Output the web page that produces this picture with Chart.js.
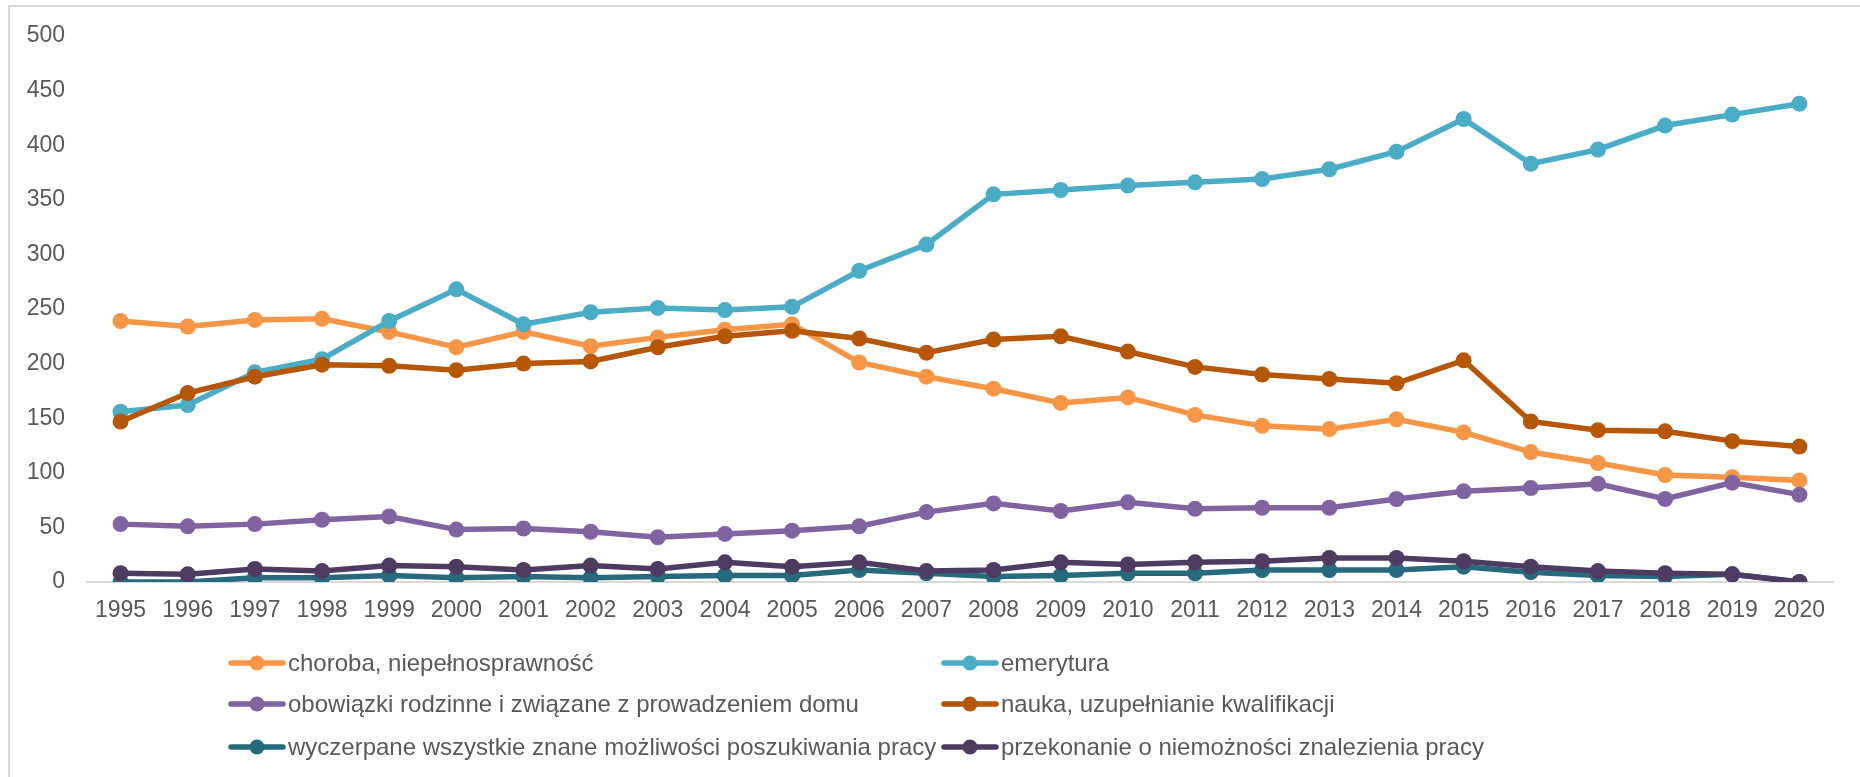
<!DOCTYPE html>
<html lang="pl">
<head>
<meta charset="utf-8">
<title>Bierni zawodowo według przyczyn</title>
<script src="https://cdn.jsdelivr.net/npm/chart.js@4.4.1/dist/chart.umd.min.js"></script>
<style>
    html, body { margin: 0; padding: 0; background: #fff; }
    #wrap { width: 1860px; height: 777px; position: relative; }
</style>
</head>
<body>
<div id="wrap"><canvas id="chart" width="1860" height="777"></canvas></div>
<script>
// lata i wartości (tys. osób)
const years = ['1995', '1996', '1997', '1998', '1999', '2000', '2001', '2002', '2003', '2004', '2005', '2006', '2007',
    '2008', '2009', '2010', '2011', '2012', '2013', '2014', '2015', '2016', '2017', '2018', '2019', '2020'];

const choroba = [239, 234, 240, 241, 229, 215, 229, 216, 224, 231, 236, 201, 188, 177, 164, 169, 153, 143, 140, 149, 137, 119, 109, 98, 96, 93];
const emerytura = [156, 162, 192, 204, 239, 268, 236, 247, 251, 249, 252, 285, 309, 355, 359, 363, 366, 369, 378, 394, 424, 383, 396, 418, 428, 438];
const obowiazki = [53, 51, 53, 57, 60, 48, 49, 46, 41, 44, 47, 51, 64, 72, 65, 73, 67, 68, 68, 76, 83, 86, 90, 76, 91, 80];
const nauka = [147, 173, 188, 199, 198, 194, 200, 202, 215, 225, 230, 223, 210, 222, 225, 211, 197, 190, 186, 182, 203, 147, 139, 138, 129, 124];
const wyczerpane = [0, 0, 4, 4, 6, 4, 5, 4, 5, 6, 6, 11, 8, 5, 6, 8, 8, 11, 11, 11, 14, 9, 6, 5, 7, 0];
const przekonanie = [8, 7, 12, 10, 15, 14, 11, 15, 12, 18, 14, 18, 10, 11, 18, 16, 18, 19, 22, 22, 19, 14, 10, 8, 7, 0];

const yTicks = [0, 50, 100, 150, 200, 250, 300, 350, 400, 450, 500];

const series = [
    {label: 'choroba, niepełnosprawność', data: choroba, color: '#F79646'},
    {label: 'emerytura', data: emerytura, color: '#4BACC6'},
    {label: 'obowiązki rodzinne i związane z prowadzeniem domu', data: obowiazki, color: '#8064A2'},
    {label: 'nauka, uzupełnianie kwalifikacji', data: nauka, color: '#B65708'},
    {label: 'wyczerpane wszystkie znane możliwości poszukiwania pracy', data: wyczerpane, color: '#276A7C'},
    {label: 'przekonanie o niemożności znalezienia pracy', data: przekonanie, color: '#4D3B62'}
];

const textColor = '#595959';
const fontFamily = "'Liberation Sans', Arial, sans-serif";

Chart.defaults.font.family = fontFamily;
Chart.defaults.color = textColor;

// ramka wykresu
const frame = {
    id: 'frame',
    beforeDraw(chart) {
        const ctx = chart.ctx;
        ctx.save();
        ctx.strokeStyle = '#d9d9d9';
        ctx.lineWidth = 2;
        ctx.beginPath();
        ctx.moveTo(9, chart.height + 5);
        ctx.lineTo(9, 6);
        ctx.lineTo(chart.width + 5, 6);
        ctx.stroke();
        ctx.restore();
    }
};

// legenda w dwóch kolumnach pod osią
const gridLegend = {
    id: 'gridLegend',
    afterDraw(chart) {
        const ctx = chart.ctx;
        const cols = [229, 942];
        const rows = [663, 704, 747];
        ctx.save();
        ctx.font = '24px ' + fontFamily;
        ctx.textBaseline = 'middle';
        ctx.textAlign = 'left';
        chart.data.datasets.forEach((ds, i) => {
            const x = cols[i % 2];
            const y = rows[Math.floor(i / 2)];
            ctx.strokeStyle = ds.borderColor;
            ctx.lineWidth = 5.5;
            ctx.lineCap = 'round';
            ctx.beginPath();
            ctx.moveTo(x + 2, y);
            ctx.lineTo(x + 54, y);
            ctx.stroke();
            ctx.fillStyle = ds.borderColor;
            ctx.beginPath();
            ctx.arc(x + 28, y, 7.5, 0, Math.PI * 2);
            ctx.fill();
            ctx.fillStyle = textColor;
            ctx.fillText(ds.label, x + 59, y + 1);
        });
        ctx.restore();
    }
};

const datasets = series.map((s, i) => ({
    label: s.label,
    data: s.data,
    borderColor: s.color,
    backgroundColor: s.color,
    pointBackgroundColor: s.color,
    borderWidth: 5.5,
    pointRadius: 8,
    pointBorderWidth: 0,
    pointHoverRadius: 8,
    tension: 0,
    order: series.length - i
}));

new Chart(document.getElementById('chart').getContext('2d'), {
    type: 'line',
    data: {
        labels: years,
        datasets
    },
    options: {
        responsive: false,
        animation: false,
        layout: {
            padding: {top: 36, right: 27, bottom: 0, left: 0}
        },
        plugins: {
            legend: {display: false},
            tooltip: {enabled: false}
        },
        scales: {
            x: {
                offset: true,
                grid: {display: false, drawTicks: false},
                border: {display: true, color: '#d9d9d9', width: 2},
                ticks: {
                    padding: 15,
                    maxRotation: 0,
                    autoSkip: false,
                    color: textColor,
                    font: {size: 23}
                },
                afterFit(scale) {
                    scale.height = 195;
                }
            },
            y: {
                min: 0,
                max: 500,
                afterBuildTicks(scale) {
                    scale.ticks = yTicks.map(v => ({value: v}));
                },
                grid: {display: false, drawTicks: false},
                border: {display: false},
                ticks: {
                    padding: 22,
                    color: textColor,
                    font: {size: 23}
                },
                afterFit(scale) {
                    scale.width = 87;
                }
            }
        }
    },
    plugins: [frame, gridLegend]
});
</script>
</body>
</html>
